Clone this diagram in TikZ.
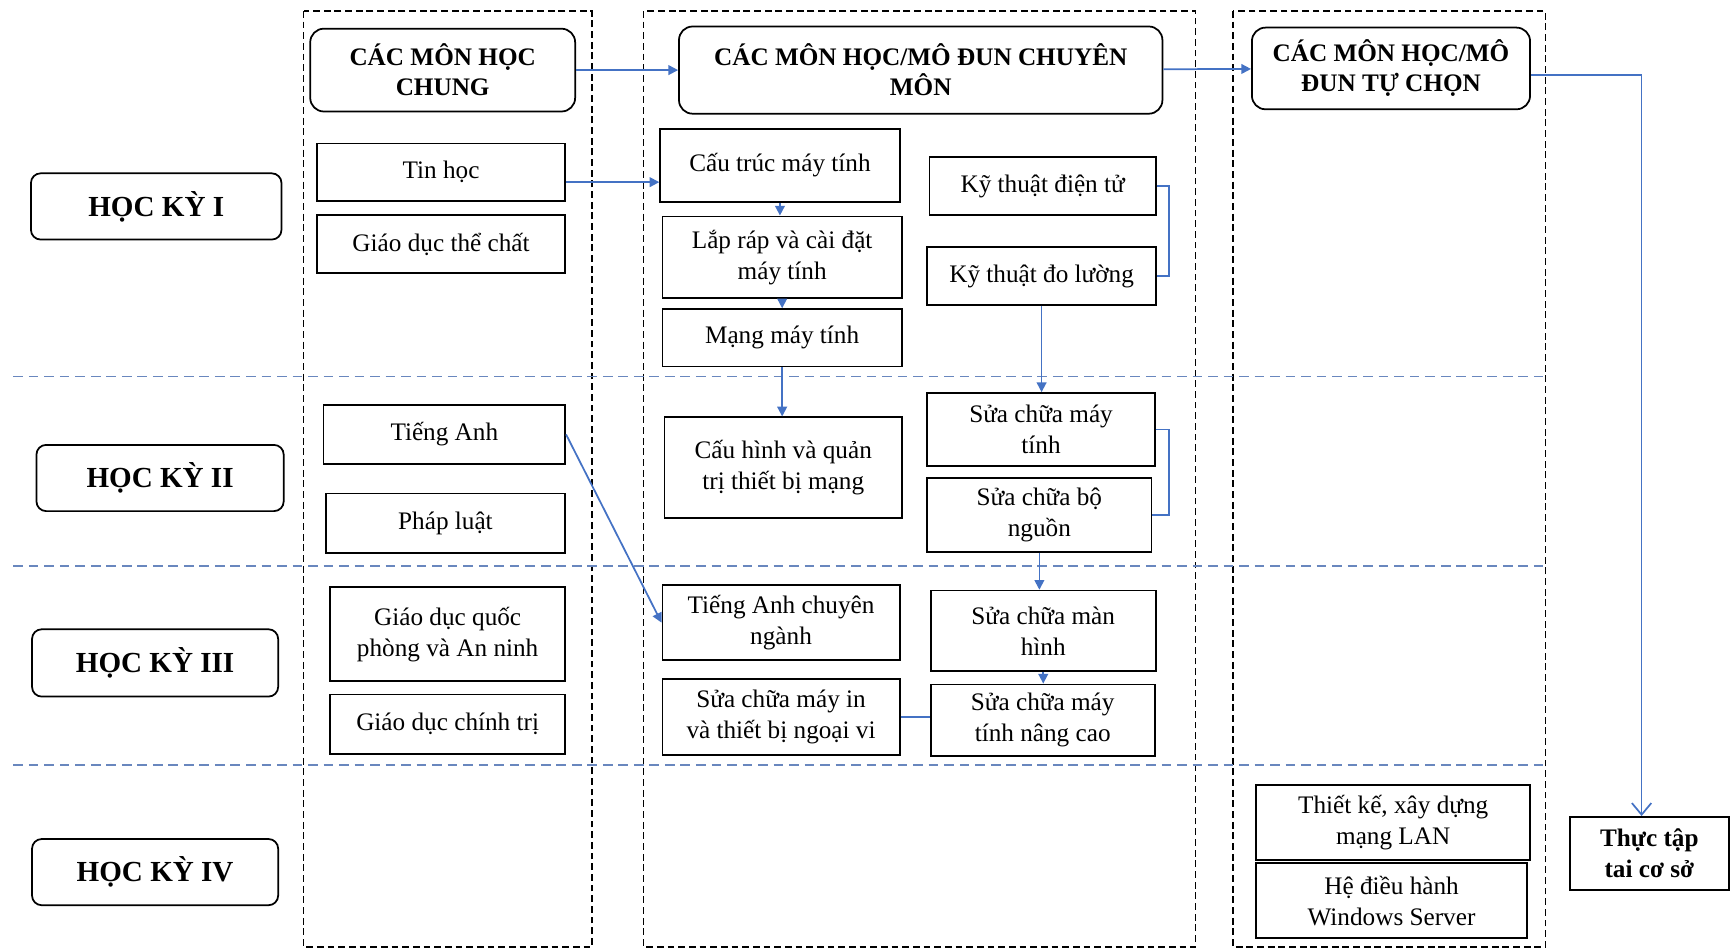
\documentclass[tikz,border=0pt]{standalone}
\usepackage{fontspec}
\setmainfont{Liberation Serif}
\usetikzlibrary{arrows.meta}

\definecolor{lineblue}{RGB}{68,114,196}
\definecolor{sepblue}{RGB}{105,135,190}

\begin{document}
\begin{tikzpicture}[x=0.02cm, y=-0.02cm]
        \tikzstyle{box} = [draw, black, line width=0.9pt, align=center, inner sep=2pt, font=\fontsize{13}{16}\selectfont]
        \tikzstyle{hk} = [box, rounded corners=5pt, font=\bfseries\fontsize{15}{18}\selectfont]
        \tikzstyle{head} = [box, rounded corners=7pt, font=\bfseries\fontsize{13}{15.5}\selectfont]
        \tikzstyle{col} = [draw, black, line width=0.9pt, dash pattern=on 3.5pt off 2pt]
        \tikzstyle{semline} = [draw, sepblue, line width=0.9pt, dash pattern=on 5pt off 3pt]
        \tikzstyle{link} = [draw, lineblue, line width=0.9pt]
        \tikzstyle{arr} = [-{Triangle[length=5pt, width=5pt]}]

        \useasboundingbox (0, 0) rectangle (1568, 861);

        \path[col] (275, 10) rectangle (536, 858);
        \path[col] (583, 10) rectangle (1083, 858);
        \path[col] (1117, 10) rectangle (1400, 858);

        \path[semline] (12, 341) -- (1398, 341);
        \path[semline] (12, 513) -- (1398, 513);
        \path[semline] (12, 693) -- (1398, 693);

        \node[hk, minimum width=4.54cm, minimum height=1.2cm] (hk1) at (141.5, 187) {HỌC KỲ I};
        \node[hk, minimum width=4.48cm, minimum height=1.2cm] (hk2) at (145, 433) {HỌC KỲ II};
        \node[hk, minimum width=4.46cm, minimum height=1.22cm] (hk3) at (140.5, 600.5) {HỌC KỲ III};
        \node[hk, minimum width=4.46cm, minimum height=1.2cm] (hk4) at (140.5, 790) {HỌC KỲ IV};

        \node[head, minimum width=4.8cm, minimum height=1.5cm] (chung) at (401, 63.5) {CÁC MÔN HỌC\\CHUNG};
        \node[box, minimum width=4.5cm, minimum height=1.04cm] (tinhoc) at (399.5, 156) {Tin học};
        \node[box, minimum width=4.5cm, minimum height=1.04cm] (gdtc) at (399.5, 221) {Giáo dục thể chất};
        \node[box, minimum width=4.38cm, minimum height=1.06cm] (tienganh) at (402.5, 393.5) {Tiếng Anh};
        \node[box, minimum width=4.34cm, minimum height=1.08cm] (phapluat) at (403.5, 474) {Pháp luật};
        \node[box, minimum width=4.26cm, minimum height=1.7cm] (gdqp) at (405.5, 574.5) {Giáo dục quốc\\phòng và An ninh};
        \node[box, minimum width=4.26cm, minimum height=1.08cm] (gdct) at (405.5, 656) {Giáo dục chính trị};

        \node[head, minimum width=8.76cm, minimum height=1.58cm] (chuyenmon) at (834, 63.5) {CÁC MÔN HỌC/MÔ ĐUN CHUYÊN\\MÔN};
        \node[box, minimum width=4.34cm, minimum height=1.32cm] (cautruc) at (706.5, 150) {Cấu trúc máy tính};
        \node[box, minimum width=4.34cm, minimum height=1.48cm] (laprap) at (708.5, 233) {Lắp ráp và cài đặt\\máy tính};
        \node[box, minimum width=4.34cm, minimum height=1.04cm] (mang) at (708.5, 306) {Mạng máy tính};
        \node[box, minimum width=4.1cm, minimum height=1.06cm] (ktdt) at (944.5, 168.5) {Kỹ thuật điện tử};
        \node[box, minimum width=4.14cm, minimum height=1.04cm] (ktdl) at (943.5, 250) {Kỹ thuật đo lường};
        \node[box, minimum width=4.3cm, minimum height=1.82cm] (cauhinh) at (709.5, 423.5) {Cấu hình và quản\\trị thiết bị mạng};
        \node[box, minimum width=4.12cm, minimum height=1.32cm] (scmt) at (943, 389) {Sửa chữa máy\\tính};
        \node[box, minimum width=4.06cm, minimum height=1.34cm] (scbn) at (941.5, 466.5) {Sửa chữa bộ\\nguồn};
        \node[box, minimum width=4.3cm, minimum height=1.36cm] (tacn) at (707.5, 564) {Tiếng Anh chuyên\\ngành};
        \node[box, minimum width=4.08cm, minimum height=1.46cm] (scmh) at (945, 571.5) {Sửa chữa màn\\hình};
        \node[box, minimum width=4.3cm, minimum height=1.38cm] (scmi) at (707.5, 649.5) {Sửa chữa máy in\\và thiết bị ngoại vi};
        \node[box, minimum width=4.06cm, minimum height=1.3cm] (scnc) at (944.5, 652.5) {Sửa chữa máy\\tính nâng cao};

        \node[head, minimum width=5.04cm, minimum height=1.48cm] (tuchon) at (1260, 62) {CÁC MÔN HỌC/MÔ\\ĐUN TỰ CHỌN};
        \node[box, minimum width=4.96cm, minimum height=1.36cm] (lan) at (1262, 745) {Thiết kế, xây dựng\\mạng LAN};
        \node[box, minimum width=4.9cm, minimum height=1.36cm] (winsv) at (1260.5, 816) {Hệ điều hành\\Windows Server};
        \node[box, font=\bfseries\fontsize{13}{16}\selectfont, minimum width=2.88cm, minimum height=1.32cm] (thuctap) at (1494, 773) {Thực tập\\tai cơ sở};

        \path[link, arr] (chung) to (chuyenmon);
        \path[link, arr] (chuyenmon) to (tuchon);
        \path[link, -{Straight Barb[length=6pt, width=10pt]}] ([yshift=-0.12cm]tuchon.east) -| ([xshift=-0.14cm]thuctap.north);
        \path[link, arr] ([yshift=-0.18cm]tinhoc.east) to ([yshift=-0.18cm]tinhoc.east -| cautruc.west);
        \path[link, arr] (cautruc.south) to (cautruc.south |- laprap.north);
        \path[link, arr] (laprap.south) to (laprap.south |- mang.north);
        \path[link, arr] (mang.south) to (mang.south |- cauhinh.north);
        \path[link] (ktdt.east) -- ++(11, 0) |- (ktdl.east);
        \path[link, arr] (ktdl.south) to (ktdl.south |- scmt.north);
        \path[link] (scmt.east) -- ++(12, 0) |- (scbn.east);
        \path[link, arr] (scbn.south) to (scbn.south |- scmh.north);
        \path[link, arr] (scmh.south) to (scmh.south |- scnc.north);
        \path[link, arr] (tienganh.east) to (tacn.west);
        \path[link] (scmi.east) to (scmi.east -| scnc.west);
    \end{tikzpicture}
\end{document}
